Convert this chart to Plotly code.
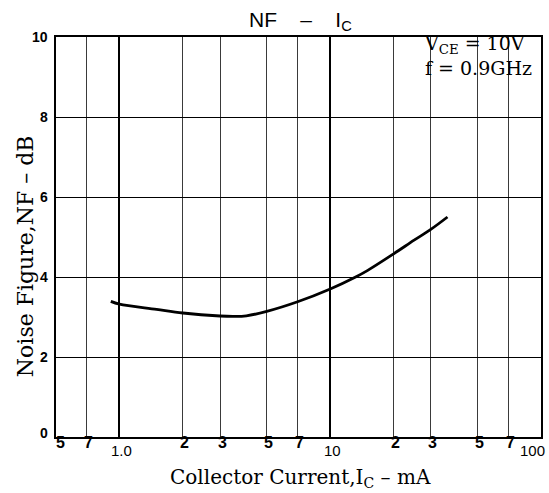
import numpy as np
import plotly.graph_objects as go

# ---- data ----
ic_ma = [0.91, 1.0, 1.5, 2.0, 3.0, 3.5, 4.0, 5.0, 7.0, 10.0, 13.2, 15.0, 20.0, 25.0, 30.0, 36.0]
nf_db = [3.39, 3.32, 3.19, 3.10, 3.025, 3.015, 3.03, 3.14, 3.38, 3.70, 4.00, 4.16, 4.58, 4.92, 5.19, 5.50]

x_major = [1, 10, 100]
x_minor = [0.5, 0.7, 2, 3, 5, 7, 20, 30, 50, 70]
x_label_vals = [0.5, 0.7, 1, 2, 3, 5, 7, 10, 20, 30, 50, 70, 100]
x_label_text = ["5", "7", "1.0", "2", "3", "5", "7", "10", "2", "3", "5", "7", "100"]
y_tick_vals = [0, 2, 4, 6, 8, 10]
y_tick_text = ["0", "2", "4", "6", "8", "10"]

W, H = 549, 493
L, R, T, B = 56, 6, 37, 56
plot_h = H - T - B
plot_w = W - L - R

fig = go.Figure()
fig.add_trace(go.Scatter(
    x=ic_ma, y=nf_db, mode="lines",
    line=dict(color="black", width=2.8, shape="spline", smoothing=1.0),
    hoverinfo="skip", showlegend=False,
))

sans = "Liberation Sans, Arial, sans-serif"
serif = "DejaVu Serif, serif"

ann = []
major_set = set(x_major)
for v, t in zip(x_label_vals, x_label_text):
    is_major = v in major_set
    xs = 2
    if v == 0.5:
        xs = 4
    xa = "center"
    if v == 100:
        xa = "right"
        xs = 6
    ann.append(dict(
        x=np.log10(v), y=0, xref="x", yref="paper",
        text=(t if is_major else "<b>%s</b>" % t),
        showarrow=False, xanchor=xa, yanchor="top",
        xshift=xs, yshift=(-3 if is_major else 5),
        font=dict(family=sans, size=(15 if is_major else 16), color="black"),
    ))
for v, t in zip(y_tick_vals, y_tick_text):
    ann.append(dict(
        x=0, y=v, xref="paper", yref="y", text="<b>%s</b>" % t,
        showarrow=False, xanchor="right", yanchor="middle",
        xshift=-6, yshift=(4 if v == 0 else 0),
        font=dict(family=sans, size=14, color="black"),
    ))

# title
ann.append(dict(
    x=(302 - L) / plot_w, y=(H - B - 21) / plot_h, xref="paper", yref="paper",
    text="NF\u00a0\u00a0\u00a0\u00a0\u2013\u00a0\u00a0\u00a0\u00a0I<sub>C</sub>",
    showarrow=False, xanchor="center", yanchor="middle",
    font=dict(family=sans, size=21, color="black"),
))
# conditions
ann.append(dict(
    x=(424 - L) / plot_w, y=(H - B - 30) / plot_h, xref="paper", yref="paper",
    text="V<sub>CE</sub> = 10V<br>f = 0.9GHz",
    showarrow=False, xanchor="left", yanchor="top", align="left",
    font=dict(family=serif, size=19, color="black"),
))
# axis titles
ann.append(dict(
    x=(302 - L) / plot_w, y=(H - B - 478) / plot_h, xref="paper", yref="paper",
    text="Collector Current,I<sub>C</sub> \u2013 mA",
    showarrow=False, xanchor="center", yanchor="middle",
    font=dict(family=serif, size=20, color="black"),
))
ann.append(dict(
    x=(25 - L) / plot_w, y=(H - B - 256) / plot_h, xref="paper", yref="paper",
    text="Noise Figure,NF \u2013 dB", textangle=-90,
    showarrow=False, xanchor="center", yanchor="middle",
    font=dict(family=serif, size=22, color="black"),
))

fig.update_layout(
    width=W, height=H,
    margin=dict(l=L, r=R, t=T, b=B),
    paper_bgcolor="white", plot_bgcolor="white",
    showlegend=False,
    annotations=ann,
    xaxis=dict(
        type="log", range=[np.log10(0.5), np.log10(100)],
        tickmode="array", tickvals=x_major, showticklabels=False, ticks="",
        showgrid=True, gridcolor="black", gridwidth=1.6,
        minor=dict(tickmode="array", tickvals=x_minor, showgrid=True,
                   gridcolor="#3a3a3a", gridwidth=1, ticks=""),
        showline=True, linecolor="black", linewidth=1.6, mirror=True,
        zeroline=False,
    ),
    yaxis=dict(
        range=[0, 10], tickmode="array", tickvals=y_tick_vals,
        showticklabels=False, ticks="",
        showgrid=True, gridcolor="black", gridwidth=1,
        showline=True, linecolor="black", linewidth=1.6, mirror=True,
        zeroline=False,
    ),
)

fig.write_html(
    "out.html",
    config=dict(displayModeBar=False),
    post_script="document.body.style.margin='0';document.body.style.overflow='hidden';",
)
